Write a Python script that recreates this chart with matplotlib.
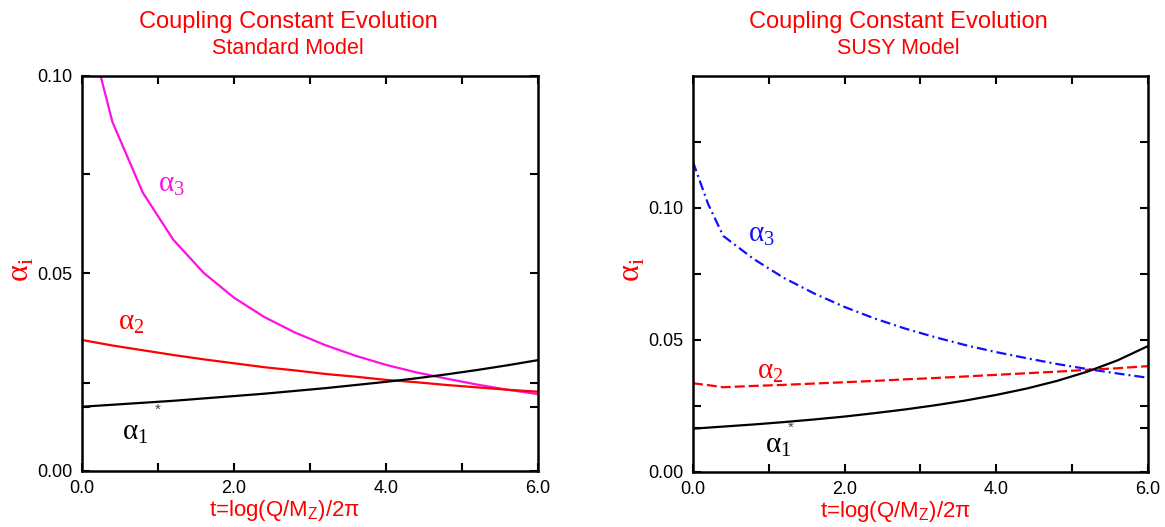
import matplotlib
matplotlib.use("Agg")
import matplotlib.pyplot as plt
from matplotlib.ticker import FixedLocator, NullFormatter

plt.rcParams['font.family'] = ['Liberation Sans', 'DejaVu Sans']
plt.rcParams['lines.scale_dashes'] = False

# Standard Model running couplings
t_sm = [0.0, 0.4, 0.8, 1.2, 1.6, 2.0, 2.4, 2.8, 3.2, 3.6, 4.0, 4.4, 4.8, 5.2, 5.6, 6.0]
a1_sm = [0.0162, 0.0167, 0.0172, 0.0177, 0.0183, 0.0189, 0.0195, 0.0202,
         0.0209, 0.0217, 0.0225, 0.0234, 0.0244, 0.0255, 0.0267, 0.0280]
a2_sm = [0.0331, 0.0317, 0.0305, 0.0293, 0.0282, 0.0272, 0.0262, 0.0254,
         0.0245, 0.0238, 0.0230, 0.0224, 0.0217, 0.0211, 0.0205, 0.0200]
a3_sm = [0.1183, 0.0883, 0.0704, 0.0585, 0.0501, 0.0438, 0.0389, 0.0350,
         0.0318, 0.0291, 0.0268, 0.0249, 0.0233, 0.0218, 0.0205, 0.0194]

# SUSY running couplings
t_susy = [0.0, 0.2, 0.4, 0.8, 1.2, 1.6, 2.0, 2.4, 2.8, 3.2, 3.6, 4.0, 4.4, 4.8, 5.2, 5.6, 6.0]
a1_susy = [0.0163, 0.0167, 0.0171, 0.0179, 0.0188, 0.0198, 0.0209, 0.0222, 0.0236,
           0.0252, 0.0270, 0.0291, 0.0315, 0.0344, 0.0379, 0.0422, 0.0476]
a2_susy = [0.0335, 0.0328, 0.0320, 0.0325, 0.0329, 0.0334, 0.0339, 0.0344, 0.0350,
           0.0355, 0.0361, 0.0367, 0.0373, 0.0379, 0.0386, 0.0392, 0.0400]
a3_susy = [0.1174, 0.1014, 0.0893, 0.0806, 0.0734, 0.0675, 0.0624, 0.0580, 0.0542,
           0.0509, 0.0479, 0.0453, 0.0430, 0.0408, 0.0389, 0.0372, 0.0356]

RED = '#ff0000'
MAGENTA = '#ff10e0'
BLUE = '#1010ff'
serif = ['Liberation Serif', 'DejaVu Serif']

fig = plt.figure(figsize=(11.65, 5.27), dpi=100)
ax1 = fig.add_axes([0.0704, 0.1068, 0.3914, 0.7495])
ax2 = fig.add_axes([0.5948, 0.1049, 0.3906, 0.7514])


def style_axes(ax, ymax, minor_y, title2):
    ax.set_xlim(0, 6)
    ax.set_ylim(0, ymax)
    ax.xaxis.set_major_locator(FixedLocator([0, 2, 4, 6]))
    ax.xaxis.set_minor_locator(FixedLocator([1, 3, 5]))
    ax.set_xticklabels(['0.0', '2.0', '4.0', '6.0'])
    ax.yaxis.set_major_locator(FixedLocator([0, 0.05, 0.10]))
    ax.yaxis.set_minor_locator(FixedLocator(minor_y))
    ax.set_yticklabels(['0.00', '0.05', '0.10'])
    ax.yaxis.set_minor_formatter(NullFormatter())
    ax.tick_params(which='both', direction='in', length=6, width=1.5,
                   top=True, right=True, labelsize=13, colors='black')
    ax.tick_params(axis='x', pad=7)
    ax.tick_params(axis='y', pad=7)
    for s in ax.spines.values():
        s.set_linewidth(1.8)
    ax.text(0.452, 1.136, 'Coupling Constant Evolution', transform=ax.transAxes,
            ha='center', va='center', color=RED, fontsize=17)
    ax.text(0.452, 1.070, title2, transform=ax.transAxes,
            ha='center', va='center', color=RED, fontsize=15.5)
    ax.set_xlabel(r't=log(Q/M$_\mathregular{Z}$)/2π', color=RED, fontsize=16)
    ax.xaxis.label.set_va('center')
    ax.xaxis.set_label_coords(0.445, -0.1)
    ax.set_ylabel(r'α$_\mathregular{i}$', color=RED, fontsize=23, family=serif)
    ax.yaxis.label.set_va('center')
    ax.yaxis.set_label_coords(-0.132, 0.51)


style_axes(ax1, 0.10, [0.0162, 0.0221, 0.075], 'Standard Model')
style_axes(ax2, 0.15, [0.0164, 0.025, 0.075, 0.125], 'SUSY Model')

# Standard Model curves
ax1.plot(t_sm, a3_sm, color=MAGENTA, lw=1.6)
ax1.plot(t_sm, a2_sm, color=RED, lw=1.6)
ax1.plot(t_sm, a1_sm, color='black', lw=1.6)

ax1.text(1.0, 0.0723, r'α$_\mathregular{3}$', color=MAGENTA, fontsize=21,
         family=serif, va='center')
ax1.text(0.47, 0.0374, r'α$_\mathregular{2}$', color=RED, fontsize=21,
         family=serif, va='center')
ax1.text(0.53, 0.0096, r'α$_\mathregular{1}$', color='black', fontsize=21,
         family=serif, va='center')
ax1.text(1.0, 0.0154, '*', color='#444444', fontsize=11, ha='center', va='center')

# SUSY curves
ax2.plot(t_susy, a3_susy, color=BLUE, lw=1.6, dashes=(7.2, 2.9, 1.4, 2.9))
ax2.plot(t_susy, a2_susy, color=RED, lw=1.6, dashes=(7.2, 2.9))
ax2.plot(t_susy, a1_susy, color='black', lw=1.6)

ax2.text(0.73, 0.0897, r'α$_\mathregular{3}$', color=BLUE, fontsize=21,
         family=serif, va='center')
ax2.text(0.84, 0.0378, r'α$_\mathregular{2}$', color=RED, fontsize=21,
         family=serif, va='center')
ax2.text(0.95, 0.0097, r'α$_\mathregular{1}$', color='black', fontsize=21,
         family=serif, va='center')
ax2.text(1.29, 0.0166, '*', color='#444444', fontsize=11, ha='center', va='center')

fig.savefig('out.png', dpi=100)
